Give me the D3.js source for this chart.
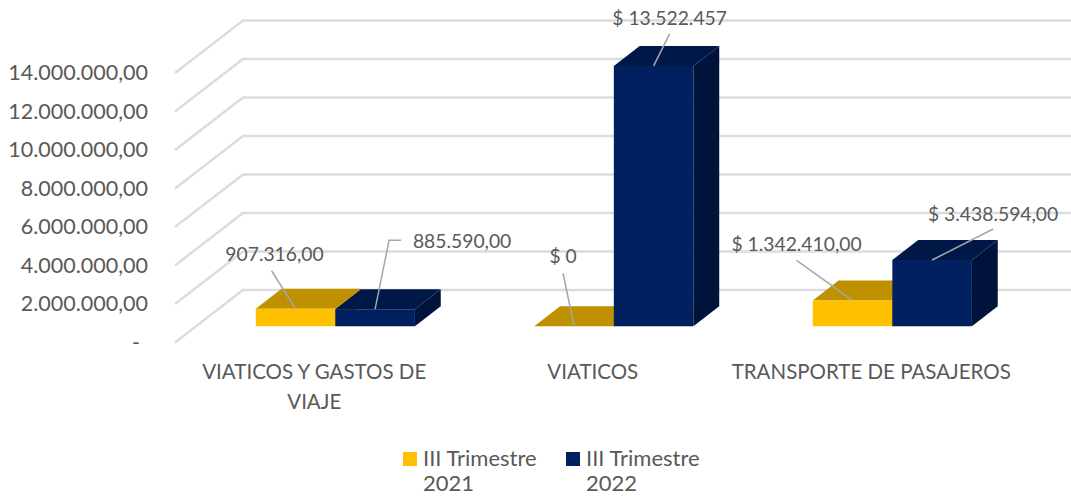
<!DOCTYPE html>
<html>
<head>
<meta charset="utf-8">
<script src="https://cdn.jsdelivr.net/npm/d3@7"></script>
<style>
  html, body { margin: 0; padding: 0; background: #fff; }
  svg { display: block; }
  text { font-family: Lato, sans-serif; fill: #595959; }
</style>
</head>
<body>
<svg></svg>
<script>
var categories = ['VIATICOS Y GASTOS DE VIAJE', 'VIATICOS', 'TRANSPORTE DE PASAJEROS'];
var seriesNames = ['III Trimestre 2021', 'III Trimestre 2022'];
var values2021 = [907316, 0, 1342410];
var values2022 = [885590, 13522457, 3438594];
var labels2021 = ['907.316,00', '$ 0', '$ 1.342.410,00'];
var labels2022 = ['885.590,00', '$ 13.522.457', '$ 3.438.594,00'];
var yTicks = [0, 2000000, 4000000, 6000000, 8000000, 10000000, 12000000, 14000000];
var yTickLabels = ['-', '2.000.000,00', '4.000.000,00', '6.000.000,00', '8.000.000,00', '10.000.000,00', '12.000.000,00', '14.000.000,00'];

var w = 1071;
var h = 496;

var svg = d3.select('svg').attr('width', w).attr('height', h);

// front plane of the fake 3d box, depth goes 0 (front) to 1 (back wall)
var y = d3.scaleLinear().domain([0, 14000000]).range([342.5, 73]);
var x = d3.scaleBand().domain(categories).range([175, 1010.5]);
var xSeries = d3.scaleBand().domain(seriesNames).range([0, x.bandwidth()]).paddingInner(0).paddingOuter(0.75);
var depthX = d3.scaleLinear().domain([0, 1]).range([0, 68]);
var depthY = d3.scaleLinear().domain([0, 1]).range([0, -52.5]);
var barFront = 0.31;
var barBack = 0.69;

var colors = {
  'III Trimestre 2021': {front: '#FFC000', top: '#BF9000', side: '#997300'},
  'III Trimestre 2022': {front: '#002060', top: '#001848', side: '#00133A'}
};

// grid
svg.append('g').selectAll('path')
  .data(yTicks)
  .enter()
  .append('path')
  .attr('fill', 'none')
  .attr('stroke', '#DCDCDC')
  .attr('stroke-width', 2.5)
  .attr('d', function(d){
    return d3.line()([
      [175, y(d)],
      [175 + depthX(1), y(d) + depthY(1)],
      [w, y(d) + depthY(1)]
    ]);
  });

// y axis
var yAxis = d3.axisLeft(y)
  .tickValues(yTicks)
  .tickSize(0)
  .tickPadding(0)
  .tickFormat(function(d, i){ return yTickLabels[i]; });

var yAxisG = svg.append('g').attr('transform', 'translate(148,0)').call(yAxis);
yAxisG.select('.domain').remove();
yAxisG.selectAll('text')
  .attr('font-size', 21.5)
  .style('font-family', 'Lato, sans-serif')
  .style('fill', '#595959');
yAxisG.selectAll('.tick').filter(function(d){ return d === 0; }).select('text').attr('x', -8);

// points of a bar corner: left/right edge px, value, depth
function pt(px, v, depth){
  return [px + depthX(depth), y(v) + depthY(depth)];
}

var bars = [];
categories.forEach(function(c, i){
  bars.push({cat: c, name: seriesNames[0], value: values2021[i], label: labels2021[i]});
  bars.push({cat: c, name: seriesNames[1], value: values2022[i], label: labels2022[i]});
});

var barG = svg.append('g').selectAll('g')
  .data(bars)
  .enter()
  .append('g');

var poly = d3.line().curve(d3.curveLinearClosed);

function left(d){ return x(d.cat) + xSeries(d.name); }
function right(d){ return left(d) + xSeries.bandwidth(); }

barG.append('path')
  .attr('fill', function(d){ return colors[d.name].side; })
  .attr('d', function(d){
    return poly([pt(right(d), 0, barFront), pt(right(d), 0, barBack), pt(right(d), d.value, barBack), pt(right(d), d.value, barFront)]);
  });
barG.append('path')
  .attr('fill', function(d){ return colors[d.name].top; })
  .attr('d', function(d){
    return poly([pt(left(d), d.value, barFront), pt(right(d), d.value, barFront), pt(right(d), d.value, barBack), pt(left(d), d.value, barBack)]);
  });
barG.append('path')
  .attr('fill', function(d){ return colors[d.name].front; })
  .attr('d', function(d){
    return poly([pt(left(d), 0, barFront), pt(right(d), 0, barFront), pt(right(d), d.value, barFront), pt(left(d), d.value, barFront)]);
  });

// data labels, hand placed like the original. offsets from the top-front middle of each bar
var labelOffsets = [
  {line: [[-24, -38]], dx: -21, dy: -48},
  {line: [[14, -69], [26, -69]], dx: 87, dy: -61},
  {line: [[-11, -53]], dx: -11, dy: -63},
  {line: [[16, -32]], dx: 16, dy: -41},
  {line: [[-56, -40]], dx: -56, dy: -49},
  {line: [[61, -31]], dx: 61, dy: -39}
];

var labelG = svg.append('g').selectAll('g')
  .data(bars)
  .enter()
  .append('g')
  .attr('transform', function(d){
    var p = pt((left(d) + right(d)) / 2, d.value, barFront);
    return 'translate(' + p[0] + ',' + p[1] + ')';
  });

labelG.append('path')
  .attr('fill', 'none')
  .attr('stroke', '#A6A6A6')
  .attr('stroke-width', 1.5)
  .attr('d', function(d, i){
    return d3.line()([[0, 0]].concat(labelOffsets[i].line));
  });

labelG.append('text')
  .attr('text-anchor', 'middle')
  .attr('font-size', 19.3)
  .attr('x', function(d, i){ return labelOffsets[i].dx; })
  .attr('y', function(d, i){ return labelOffsets[i].dy; })
  .text(function(d){ return d.label; });

// category labels
var catLines = categories.map(function(c, i){
  return i === 0 ? ['VIATICOS Y GASTOS DE', 'VIAJE'] : [c];
});

svg.append('g').selectAll('text')
  .data(categories)
  .enter()
  .append('text')
  .attr('text-anchor', 'middle')
  .attr('font-size', 20.5)
  .attr('y', 379)
  .each(function(d, i){
    var t = d3.select(this);
    catLines[i].forEach(function(s, j){
      t.append('tspan')
        .attr('x', x(d) + x.bandwidth() / 2)
        .attr('y', 379 + j * 30)
        .text(s);
    });
  });

// legend
var legendX = d3.scalePoint().domain(seriesNames).range([403, 566]);

var legend = svg.append('g').selectAll('g')
  .data(seriesNames)
  .enter()
  .append('g')
  .attr('transform', function(d){ return 'translate(' + legendX(d) + ',0)'; });

legend.append('rect')
  .attr('y', 452)
  .attr('width', 14)
  .attr('height', 14)
  .attr('fill', function(d){ return colors[d].front; });

legend.append('text')
  .attr('font-size', 22)
  .each(function(d){
    var parts = d.split(' ');
    var t = d3.select(this);
    t.append('tspan').attr('x', 20).attr('y', 465.5).text(parts.slice(0, 2).join(' '));
    t.append('tspan').attr('x', 20).attr('y', 490.5).text(parts[2]);
  });
</script>
</body>
</html>
